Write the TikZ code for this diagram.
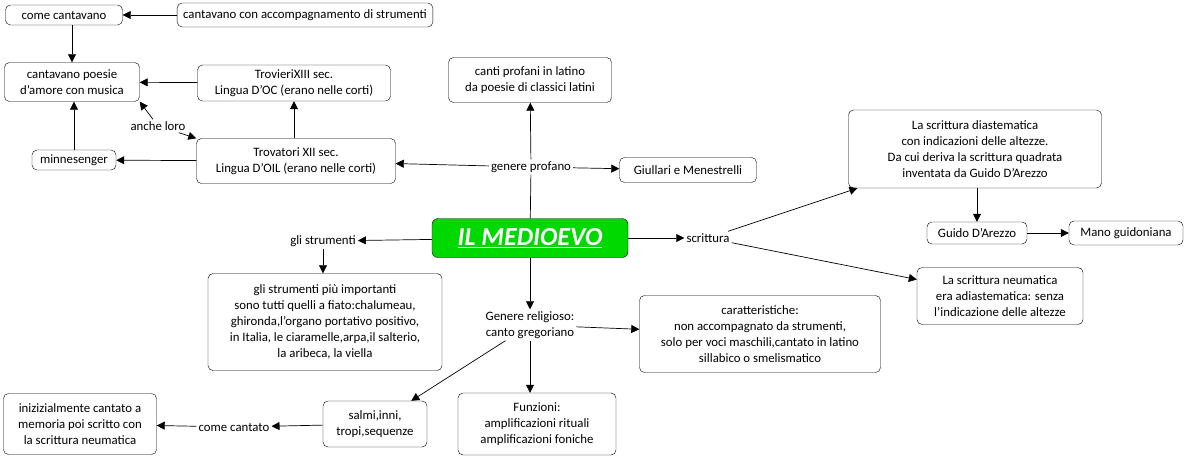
\documentclass[tikz,border=0pt]{standalone}
\usepackage{fontspec}
\setmainfont{Carlito}
\usetikzlibrary{arrows.meta}
\begin{document}
\begin{tikzpicture}[x=1pt,y=-1pt,
  box/.style={draw,rounded corners=5pt,align=center,inner sep=3pt,font=\fontsize{12.8}{16}\selectfont,fill=white},
  txt/.style={align=center,inner sep=2pt,font=\fontsize{12.8}{16}\selectfont},
  ar/.style={-{Triangle[length=8pt,width=8pt]},line width=0.7pt},
  ln/.style={line width=0.7pt}]
\useasboundingbox (0,0) rectangle (1190,459);
\node[box,minimum width=117pt,minimum height=20pt] (cc) at (64,15) {come cantavano};
\node[box,minimum width=241pt,minimum height=24pt,inner xsep=6pt] (cacc) at (305,15) {cantavano con accompagnamento di strumenti};
\node[box,minimum width=135pt,minimum height=39pt] (poe) at (72,82) {cantavano poesie\\d'amore con musica};
\node[box,minimum width=193pt,minimum height=36pt] (trv) at (294,83) {TrovieriXIII sec.\\Lingua D'OC (erano nelle corti)};
\node[txt] (anc) at (158,126) {anche loro};
\node[box,minimum width=84pt,minimum height=20pt] (min) at (74,160) {minnesenger};
\node[box,minimum width=199pt,minimum height=45pt] (trt) at (296,161) {Trovatori XII sec.\\Lingua D'OIL (erano nelle corti)};
\node[box,minimum width=163pt,minimum height=45pt] (cp) at (530,80) {canti profani in latino\\da poesie di classici latini};
\node[txt] (gp) at (531,167) {genere profano};
\node[box,minimum width=137pt,minimum height=25pt] (giu) at (688,170) {Giullari e Menestrelli};
\node[draw,rounded corners=6pt,fill=green!85!black,minimum width=196pt,minimum height=39pt,text=white,font=\fontsize{26}{28}\selectfont\bfseries\itshape] (me) at (530,238) {\underline{IL MEDIOEVO}};
\node[txt] (scr) at (708,238) {scrittura};
\node[box,minimum width=253pt,minimum height=78pt] (dia) at (975,149) {La scrittura diastematica\\con indicazioni delle altezze.\\Da cui deriva la scrittura quadrata\\inventata da Guido D'Arezzo};
\node[box,minimum width=100pt,minimum height=22pt] (gui) at (977,233) {Guido D'Arezzo};
\node[box,minimum width=114pt,minimum height=24pt] (man) at (1126,233) {Mano guidoniana};
\node[box,minimum width=166pt,minimum height=57pt] (neu) at (1000,296) {La scrittura neumatica\\era adiastematica: senza\\l'indicazione delle altezze};
\node[txt] (gs) at (323,241) {gli strumenti};
\node[box,minimum width=234pt,minimum height=97pt] (gsi) at (325,322) {gli strumenti più importanti\\sono tutti quelli a fiato:chalumeau,\\ghironda,l'organo portativo positivo,\\in Italia, le ciaramelle,arpa,il salterio,\\la aribeca, la viella};
\node[txt] (gr) at (530,325) {Genere religioso:\\canto gregoriano};
\node[box,minimum width=241pt,minimum height=77pt] (car) at (760,334) {caratteristiche:\\non accompagnato da strumenti,\\solo per voci maschili,cantato in latino\\sillabico o smelismatico};
\node[box,minimum width=104pt,minimum height=46pt] (sal) at (375,424) {salmi,inni,\\tropi,sequenze};
\node[box,minimum width=158pt,minimum height=62pt] (fun) at (537,424) {Funzioni:\\amplificazioni rituali\\amplificazioni foniche};
\node[txt] (cct) at (234,427) {come cantato};
\node[box,minimum width=153pt,minimum height=61pt] (ini) at (80,424) {inizizialmente cantato a\\memoria poi scritto con\\la scrittura neumatica};
\draw[ar] (cacc) -- (cc);
\draw[ar] (cc.south -| 72,0) -- (poe.north -| 72,0);
\draw[ar] (trv) -- (poe);
\draw[ar] (trt.north -| trv) -- (trv);
\draw[ar] (anc) -- (poe.south east);
\draw[ar] (anc) -- (trt.north west);
\draw[ar] (min) -- (poe.south -| min);
\draw[ar] (trt) -- (min);
\draw[ar] (gp) -- (trt);
\draw[ar] (gp) -- (giu);
\draw[ar] (gp) -- (cp);
\draw[ln] (me) -- (gp);
\draw[ar] (me) -- (scr);
\draw[ar] (scr) -- (dia);
\draw[ar] (scr) -- (neu);
\draw[ar] (gui |- dia.south) -- (gui);
\draw[ar] (gui) -- (man);
\draw[ar] (me) -- (gs);
\draw[ar] (gs) -- (gs |- gsi.north);
\draw[ar] (me) -- (gr);
\draw[ar] (gr) -- (car);
\draw[ar] (gr) -- (sal);
\draw[ar] (gr.south -| 530,0) -- (fun.north -| 530,0);
\draw[ar] (sal) -- (cct);
\draw[ar] (cct) -- (ini);
\end{tikzpicture}
\end{document}
